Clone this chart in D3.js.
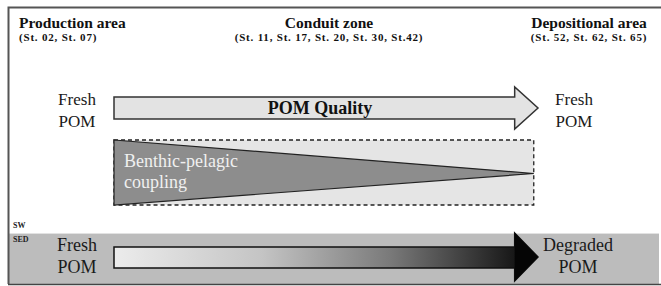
<!DOCTYPE html>
<html>
<head>
<meta charset="utf-8">
<script src="https://cdn.jsdelivr.net/npm/d3@7"></script>
<style>
  body { margin: 0; background: #fff; }
  svg { display: block; }
  svg text { font-family: "Liberation Serif", "Times New Roman", "DejaVu Serif", serif; }
</style>
</head>
<body>
<div class="chart"></div>
<script>
// zone headers along the transect
const zones = ["Production area", "Conduit zone", "Depositional area"];
const stations = ["(St. 02, St. 07)", "(St. 11, St. 17, St. 20, St. 30, St.42)", "(St. 52, St. 62, St. 65)"];
const layers = ["SW", "SED"];
// end labels for each arrow (start, end)
const swEnds = [["Fresh", "POM"], ["Fresh", "POM"]];
const sedEnds = [["Fresh", "POM"], ["Degraded", "POM"]];
const qualityLabel = "POM Quality";
const couplingLabel = ["Benthic-pelagic", "coupling"];
// relative position along the transect: arrow start, body end, tip
const arrowStops = [0, 0.945, 1];

const W = 661, H = 286;
const svg = d3.select(".chart").append("svg")
    .attr("width", W).attr("height", H);

// x along the transect (left of arrows -> tip)
const x = d3.scaleLinear().domain([0, 1]).range([114, 538]);

const defs = svg.append("defs");
const grad = defs.append("linearGradient")
    .attr("id", "sedGrad")
    .attr("x1", "0%").attr("x2", "100%");
grad.append("stop").attr("offset", "0%").attr("stop-color", "#ececec");
grad.append("stop").attr("offset", "35%").attr("stop-color", "#c4c4c4");
grad.append("stop").attr("offset", "65%").attr("stop-color", "#7a7a7a");
grad.append("stop").attr("offset", "100%").attr("stop-color", "#050505");

// sediment band
svg.append("rect")
    .attr("x", 8).attr("y", 233).attr("width", 651).attr("height", 51)
    .attr("fill", "#bcbcbc");
svg.append("line")
    .attr("x1", 8).attr("x2", 659).attr("y1", 233.5).attr("y2", 233.5)
    .attr("stroke", "#e2e2e2").attr("stroke-width", 1);

// outer frame
svg.append("path")
    .attr("d", "M8.5,284 V7.5 H661")
    .attr("fill", "none").attr("stroke", "#555").attr("stroke-width", 2);
svg.append("line")
    .attr("x1", 8).attr("x2", 661).attr("y1", 284.5).attr("y2", 284.5)
    .attr("stroke", "#444").attr("stroke-width", 1.5);

// headers
const headerX = [19, 329, 589];
const anchors = ["start", "middle", "middle"];
const headers = svg.append("g").attr("font-weight", "bold").attr("fill", "#111");
headers.selectAll("text.zone")
    .data(zones).join("text")
    .attr("class", "zone")
    .attr("x", (d, i) => headerX[i]).attr("y", 27.5)
    .attr("text-anchor", (d, i) => anchors[i])
    .attr("font-size", 15.5)
    .text(d => d);
headers.selectAll("text.st")
    .data(stations).join("text")
    .attr("class", "st")
    .attr("x", (d, i) => headerX[i]).attr("y", 40.5)
    .attr("text-anchor", (d, i) => anchors[i])
    .attr("font-size", 11).attr("letter-spacing", 0.8)
    .text(d => d);

// layer tags
svg.selectAll("text.layer")
    .data(layers).join("text")
    .attr("class", "layer")
    .attr("x", 13).attr("y", (d, i) => [228, 242][i])
    .attr("font-size", 8).attr("font-weight", "bold").attr("fill", "#222")
    .text(d => d);

function arrowPath(y0, y1, hy0, hy1) {
    const xs = arrowStops.map(x);
    const ym = (hy0 + hy1) / 2;
    return `M${xs[0]},${y0} H${xs[1]} V${hy0} L${xs[2]},${ym} L${xs[1]},${hy1} V${y1} H${xs[0]} Z`;
}

// top arrow: POM quality in the water column
svg.append("path")
    .attr("d", arrowPath(97, 119, 87, 129))
    .attr("fill", "#e3e3e3").attr("stroke", "#333").attr("stroke-width", 1.5)
    .attr("stroke-linejoin", "miter");
svg.append("text")
    .attr("x", 320).attr("y", 114)
    .attr("text-anchor", "middle")
    .attr("font-size", 18).attr("font-weight", "bold").attr("fill", "#111")
    .text(qualityLabel);

// coupling box with wedge
const bx0 = x(0), bx1 = x(0.99);
svg.append("rect")
    .attr("x", bx0).attr("y", 140).attr("width", bx1 - bx0).attr("height", 65)
    .attr("fill", "#e5e5e5").attr("stroke", "#222").attr("stroke-width", 1.3)
    .attr("stroke-dasharray", "4,3");
svg.append("path")
    .attr("d", `M${bx0},140 L${bx1},173.5 L${bx0},205 Z`)
    .attr("fill", "#8d8d8d").attr("stroke", "#222").attr("stroke-width", 1.2);
svg.append("g").selectAll("text")
    .data(couplingLabel).join("text")
    .attr("x", 124).attr("y", (d, i) => 167 + i * 21)
    .attr("font-size", 18).attr("fill", "#f0f0f0")
    .text(d => d);

// bottom arrow: sediment POM
svg.append("path")
    .attr("d", arrowPath(247, 268, 233, 281))
    .attr("fill", "url(#sedGrad)").attr("stroke", "#111").attr("stroke-width", 1.5);
svg.append("path")
    .attr("d", `M${x(arrowStops[1])},233 L${x(1)},257 L${x(arrowStops[1])},281 Z`)
    .attr("fill", "#050505");

function endLabels(pairs, ys, size) {
    const g = svg.append("g").attr("font-size", size).attr("fill", "#1a1a1a");
    const lx = [77, 578];
    pairs.forEach((lines, i) => {
        g.append("g").selectAll("text")
            .data(lines).join("text")
            .attr("x", i === 0 ? lx[0] : (lines[0] === "Fresh" ? 574 : lx[1]))
            .attr("y", (d, j) => ys[j])
            .attr("text-anchor", "middle")
            .text(d => d);
    });
}
endLabels(swEnds, [105, 127], 17);
endLabels(sedEnds, [251, 273], 18);
</script>
</body>
</html>
